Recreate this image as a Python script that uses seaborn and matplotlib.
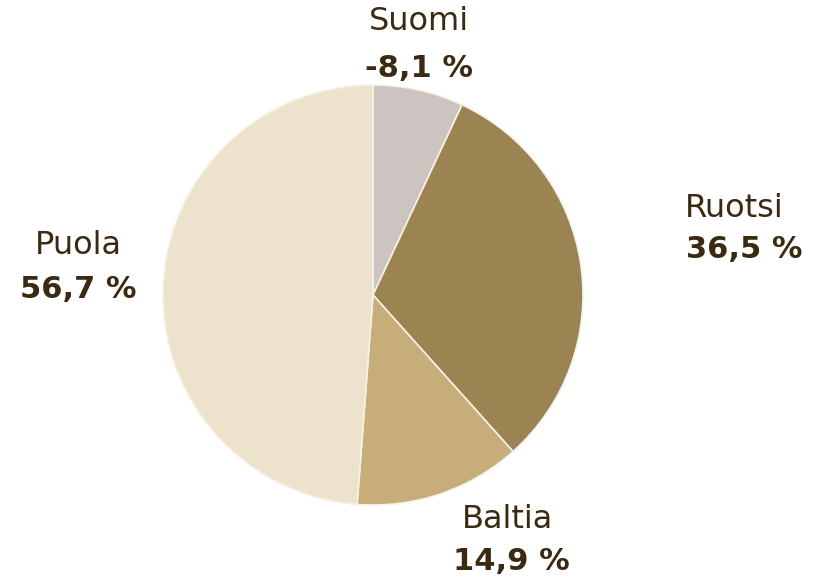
import numpy as np
import seaborn as sns
import matplotlib.pyplot as plt

# ── Data ──────────────────────────────────────────────────────────────────────
regions = ['Suomi', 'Ruotsi', 'Baltia', 'Puola']
shares = [-8.1, 36.5, 14.9, 56.7]          # % as printed in the labels
colors = ['#cdc3c0', '#9b8352', '#c6ad7a', '#ede3cd']

# label anchor (x, y) in pie units, radius = 1
label_pos = [(0.22, 1.30), (1.72, 0.41), (0.64, -1.07), (-1.405, 0.235)]
value_pos = [(0.22, 1.08), (1.77, 0.215), (0.66, -1.27), (-1.405, 0.025)]

TEXT = '#3b2a12'

sns.set_theme(style='white')
plt.rcParams['font.family'] = ['DejaVu Sans']

fig = plt.figure(figsize=(8.19, 5.8), dpi=100)
ax = fig.add_axes([0, 0, 1, 1])

sizes = np.abs(shares)
ax.pie(sizes, colors=colors, startangle=90, counterclock=False, radius=1.0,
       wedgeprops=dict(edgecolor='#f6f1e6', linewidth=1.2))

for name, val, (lx, ly), (vx, vy) in zip(regions, shares, label_pos, value_pos):
    ax.text(lx, ly, name, ha='center', va='center', fontsize=23, color=TEXT)
    txt = f'{val:.1f}'.replace('.', ',') + ' %'
    ax.text(vx, vy, txt, ha='center', va='center', fontsize=22,
            fontweight='bold', color=TEXT)

ax.set_xlim(-373 / 210, (819 - 373) / 210)
ax.set_ylim(-(580 - 295) / 210, 295 / 210)
ax.set_aspect('equal')
ax.axis('off')

fig.savefig('out.png', dpi=100, facecolor='white')
